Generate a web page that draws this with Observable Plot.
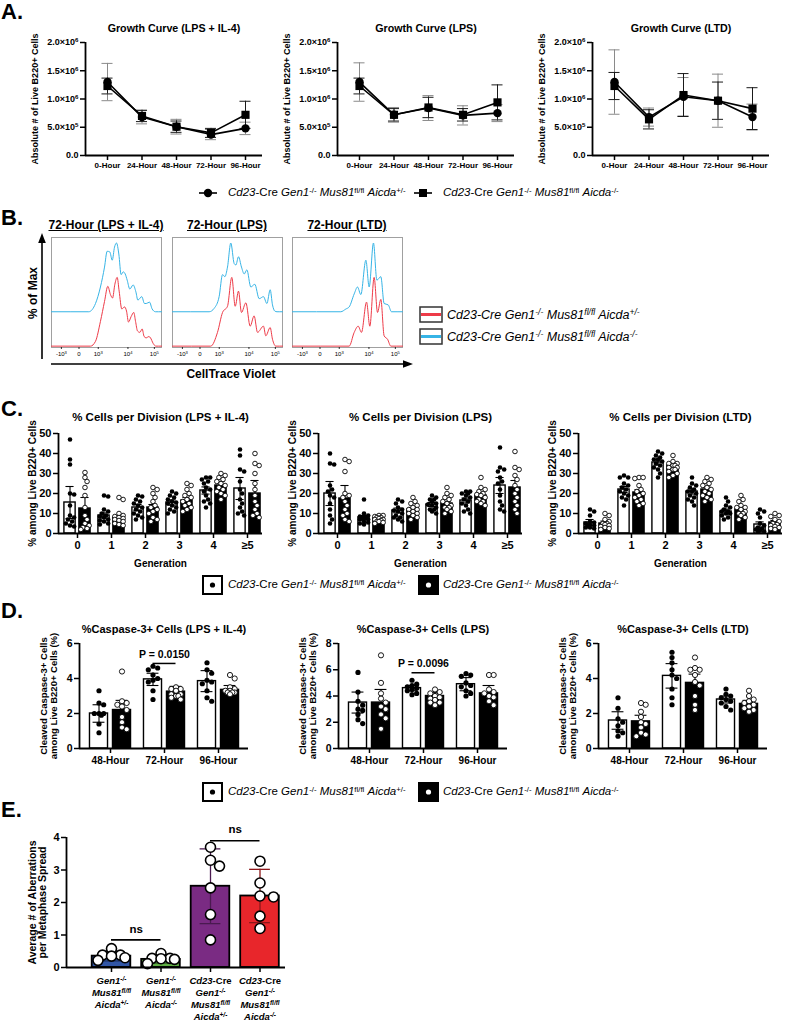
<!DOCTYPE html>
<html>
<head>
<meta charset="utf-8">
<script src="https://cdn.jsdelivr.net/npm/d3@7"></script>
<script src="https://cdn.jsdelivr.net/npm/@observablehq/plot@0.6"></script>
<style>
  html,body{margin:0;padding:0;background:#fff;}
  #root{position:relative;width:785px;height:1022px;overflow:hidden;background:#fff;font-family:"Liberation Sans",Arial,Helvetica,sans-serif;color:#000;}
  .t{position:absolute;white-space:nowrap;line-height:1;}
  .t sup{font-size:68%;line-height:0;vertical-align:0.45em;}
</style>
</head>
<body>
<div id="root"></div>
<script>
// ================= DATA =================
// ---- Panel A: growth curves (values ×10^6 cells) ----
const hours = ["0-Hour", "24-Hour", "48-Hour", "72-Hour", "96-Hour"];
const growthTitles = ["Growth Curve (LPS + IL-4)", "Growth Curve (LPS)", "Growth Curve (LTD)"];
const growthYTicks = [0, 500000, 1000000, 1500000, 2000000];
const growthYTickLabels = ["0.0", "5.0×10^5^", "1.0×10^6^", "1.5×10^6^", "2.0×10^6^"];
const growthHetMean = [[1.30, 0.68, 0.51, 0.37, 0.48], [1.30, 0.72, 0.84, 0.71, 0.75], [1.30, 0.68, 1.04, 0.97, 0.68]];
const growthHetErr  = [[0.33, 0.12, 0.13, 0.09, 0.11], [0.34, 0.13, 0.22, 0.17, 0.15], [0.57, 0.16, 0.34, 0.47, 0.23]];
const growthKoMean  = [[1.23, 0.70, 0.51, 0.40, 0.72], [1.23, 0.72, 0.85, 0.72, 0.94], [1.23, 0.64, 1.07, 0.97, 0.83]];
const growthKoErr   = [[0.14, 0.10, 0.10, 0.08, 0.24], [0.14, 0.11, 0.18, 0.11, 0.31], [0.24, 0.17, 0.38, 0.33, 0.37]];

// ---- Panel B: CellTrace Violet histograms (x: channel position 0-100, y: % of max) ----
const histTitles = ["72-Hour (LPS + IL-4)", "72-Hour (LPS)", "72-Hour (LTD)"];
const histTicks = [9, 25, 42.5, 69.5, 93.5];
const histTickLabels = ["-10^3^", "0", "10^3^", "10^4^", "10^5^"];
const histRed = [
  [[0,0],[35.5,0],[40,7],[44.5,36],[48.2,65],[51.2,87],[53.6,75],[55.5,70],[57.6,90],[59.7,100],[61.5,80],[63.9,54],[66.4,57],[68.2,51],[70,35],[72.4,43],[74.8,49],[76.4,36],[78.2,22],[80.3,20],[82.4,25],[84.2,14],[86.1,12],[88.5,14],[90,12],[92.4,4],[94.8,0],[100,0]],
  [[0,0],[34.8,0],[40.9,20],[45.5,49],[50,58],[53.9,100],[57,58],[60,80],[62.7,49],[66.7,63],[70.6,29],[74.2,44],[77.3,20],[82.7,29],[84.8,15],[88.8,27],[90.9,10],[93.9,0],[100,0]],
  [[0,0],[51.5,0],[56.1,20],[59.7,29],[62.7,20],[67.3,64],[70.3,29],[74.2,100],[77.3,49],[80.3,68],[83.3,15],[86.4,10],[89.4,0],[100,0]]
];
const histBlue = [
  [[0,0],[33.9,0],[40,12],[44.5,36],[48.2,65],[50.6,88],[53,87],[55.2,75],[57.3,94],[59.1,100],[61.2,84],[63.3,54],[65.2,58],[67,55],[68.8,46],[71.2,33],[74.2,39],[76.7,29],[78.5,17],[82.1,22],[84.5,12],[86.1,12],[89.1,14],[91.5,4],[94.5,0],[100,0]],
  [[0,0],[33.3,0],[37.9,5],[42.4,22],[45.5,54],[47.6,51],[50,65],[53,100],[56.1,70],[57.6,68],[60,80],[62.7,65],[65.2,55],[67.6,61],[71.2,36],[74.8,40],[78.8,19],[82.7,22],[85.8,12],[88.8,32],[90.9,10],[93,1],[95,0],[100,0]],
  [[0,0],[43.9,0],[48.5,4],[51.5,7],[56.1,26],[59.1,36],[62.1,25],[66.7,75],[69.7,36],[73.6,100],[76.7,46],[80.3,51],[83.3,12],[87,10],[90,0],[100,0]]
];

// ---- Panel C: % cells per division ----
const generations = ["0", "1", "2", "3", "4", "≥5"];
const divTitles = ["% Cells per Division (LPS + IL-4)", "% Cells per Division (LPS)", "% Cells per Division (LTD)"];
const divYTicks = [0, 10, 20, 30, 40, 50];
const divHetMean = [[15.5, 9, 13, 15.5, 21.5, 22.5], [20, 8, 11.5, 14.5, 16.5, 24], [5.5, 22, 35.5, 21, 11, 4.5]];
const divHetErr  = [[8, 1.3, 1.5, 1.3, 1.8, 5.5], [6, 1, 1.2, 1, 1.2, 4], [1.5, 1.5, 1.3, 1.3, 1.2, 1.3]];
const divKoMean  = [[12.5, 8, 13, 16.5, 24, 20], [17.5, 7.5, 12, 15, 19, 23], [5, 20.5, 34, 22, 12, 5.5]];
const divKoErr   = [[5.5, 1, 1.5, 1.5, 2, 6.5], [6.5, 0.5, 1, 1, 1.2, 3.5], [1.2, 1.4, 1, 1.2, 1.1, 1]];
const divHetDots = [
  [[47,37,34.5,20,19.5,14,9,8,7,6,5,4,3.5],[19,18.5,12,11,10,9,8.5,8,7,6.5,6,5,4.5],[19,18.5,17,16,15,14,13,12,11,10,9,8,7],[21,20,19,18,17,16,15.5,15,14,13,12,11,10],[28,28,27,26,25,23,22,21,19,17,16,15,13],[42,39,32,31,26,22,20,17,15,13,11,10,9]],
  [[40,35,34.5,24,22,21,19,18,15,12,9,7,5],[17,10,9,8.5,8,8,7.5,7,7,6,5.5,5,4.5],[17,16,15,13,12,11.5,11,10,9,8,8,7,6],[19,18,17,17,16,15,14.5,14,13,12,12,11,10],[21,21,20,20,19,18,17,16,15,14,12,11,10],[43,33,32,31,28,26,25,22,19,16,14,12,11]],
  [[12,11,9,6,5.5,5,4.5,4,4,3,3,2.5],[29,28,28,25,24,23,22,21,20,19,18,17,14],[41,40,39,38,37,37,36,35,34,33,32,30,28],[28,25,24,23,22,21,21,20,19,18,17,16,14],[18,16,14,13,12,11,11,10,10,9,8,7],[12,11,10,8,5,4,3,2.5,2,1.5,1,1]]
];
const divKoDots = [
  [[30.5,28,26,23,19,13,9,7,5,4,3,2.5,2],[18,17,10,9,8.5,8,7.5,7,6.5,6,5,4.5,4],[23,22,20,18,16,14,13,12,11,10,8,7,6],[25,24,22,20,19,18,17,16,15,14,13,12,11],[30,29,28,27,26,25,24,23,22,21,20,19,17],[40,35,34,30,25,22,19,16,14,12,10,9,8]],
  [[37,36,31,20,19,18,16,14,12,10,9,7,6],[9,9,8.5,8,8,7.5,7,7,6.5,6,6,5.5,5],[18,16,15,14,13,12,12,11,10,10,9,8,7],[23,20,19,18,17,16,15,14,13,13,12,11,10],[28,23,22,21,20,19.5,19,18,17,16,16,15,14],[41,33,32,29,27,24,22,20,18,16,14,12,10]],
  [[10,9,7,6,5,5,4.5,4,3.5,3,2.5,2],[28,28,27.5,24,22,21,20,19,18,17,16,15,14],[39,36,35,35,34,34,33,33,32,32,31,30,29,28],[28,27,26,25,24,23,22,21,20,19,18,17,16],[19,17,16,14,13,13,12,11,10,10,9,8,7],[10,9,8.5,7,6,5,4.5,4,3.5,3,2.5,2]]
];

// ---- Panel D: cleaved caspase-3 ----
const caspCats = ["48-Hour", "72-Hour", "96-Hour"];
const caspTitles = ["%Caspase-3+ Cells (LPS + IL-4)", "%Caspase-3+ Cells (LPS)", "%Caspase-3+ Cells (LTD)"];
const caspYMax = [6, 8, 6];
const caspYTicks = [[0, 2, 4, 6], [0, 2, 4, 6, 8], [0, 2, 4, 6]];
const caspHetMean = [[2.0, 3.95, 3.85], [3.5, 4.6, 4.9], [1.6, 4.15, 2.8]];
const caspHetErr  = [[0.5, 0.35, 0.6], [0.8, 0.2, 0.5], [0.5, 0.7, 0.2]];
const caspKoMean  = [[2.2, 3.25, 3.35], [3.5, 4.0, 4.2], [1.55, 3.75, 2.55]];
const caspKoErr   = [[0.55, 0.3, 0.25], [1.0, 0.25, 0.6], [0.35, 0.5, 0.2]];
const caspHetDots = [
  [[3.3,2.6,2.5,2.0,2.0,2.0,1.9,1.4,0.9],[4.7,4.6,4.5,4.2,4.0,3.9,3.8,3.3,2.8],[4.9,4.5,4.3,3.9,3.8,3.7,3.3,2.9,2.7]],
  [[5.8,4.3,3.6,3.3,3.0,2.9,2.6,2.2,1.9],[5.2,4.9,4.8,4.7,4.6,4.5,4.4,4.2,4.1],[5.7,5.6,5.5,5.0,4.8,4.7,4.4,4.2,4.0]],
  [[2.9,2.3,1.7,1.5,1.3,1.0,0.9,0.7],[5.5,5.2,4.9,4.5,4.2,4.0,3.4,2.9,2.5],[3.4,3.1,3.0,2.9,2.8,2.7,2.6,2.4,2.2]]
];
const caspKoDots = [
  [[4.4,2.7,2.6,2.5,2.4,2.2,1.8,1.5,1.2,1.1],[3.5,3.4,3.4,3.3,3.1,3.1,3.0,3.0,2.9,2.8],[4.2,4.0,3.5,3.4,3.3,3.3,3.2,3.2,3.2,3.1]],
  [[7.1,5.0,4.2,3.8,3.5,3.2,3.0,2.6,2.3,1.5],[4.5,4.3,4.2,4.0,3.9,3.8,3.7,3.5,3.5,3.3],[5.6,5.6,4.5,4.3,4.2,4.0,3.9,3.6,3.3]],
  [[2.6,2.5,2.1,1.8,1.5,1.4,1.2,0.9,0.8,0.7],[5.2,4.6,4.5,4.5,4.2,3.8,3.6,3.0,2.5,2.2],[3.3,3.0,2.8,2.7,2.6,2.5,2.4,2.3,2.2,2.1]]
];
const caspSig = [[{cat: 1, y: 4.86, label: "P = 0.0150"}], [{cat: 1, y: 5.77, label: "P = 0.0096"}], []];

// ---- Panel E: aberrations per metaphase spread ----
const aberrGroups = [
  "*Gen1^-/-^*\n*Mus81^fl/fl^*\n*Aicda^+/-^*",
  "*Gen1^-/-^*\n*Mus81^fl/fl^*\n*Aicda^-/-^*",
  "*Cd23*-Cre\n*Gen1^-/-^*\n*Mus81^fl/fl^*\n*Aicda^+/-^*",
  "*Cd23*-Cre\n*Gen1^-/-^*\n*Mus81^fl/fl^*\n*Aicda^-/-^*"
];
const aberrYTicks = [0, 1, 2, 3, 4];
const aberrMean = [0.35, 0.25, 2.5, 2.2];
const aberrSD = [0.15, 0.12, 1.15, 0.82];
const aberrDots = [[0.58, 0.38, 0.38, 0.35, 0.30, 0.22], [0.43, 0.28, 0.28, 0.27, 0.25, 0.12], [3.7, 3.3, 3.12, 2.45, 1.63, 0.85], [3.27, 2.6, 2.2, 2.17, 1.58, 1.2]];
const aberrSig = [{a: 0, b: 1, y: 0.85, label: "ns"}, {a: 2, b: 3, y: 3.9, label: "ns"}];

// Genotype legend labels
const genoHet = '<i>Cd23</i>-Cre <i>Gen1</i><sup>-/-</sup> <i>Mus81</i><sup>fl/fl</sup> <i>Aicda</i><sup>+/-</sup>';
const genoKo  = '<i>Cd23</i>-Cre <i>Gen1</i><sup>-/-</sup> <i>Mus81</i><sup>fl/fl</sup> <i>Aicda</i><sup>-/-</sup>';
const genoHetIt = '<i>Cd23-Cre Gen1<sup>-/-</sup> Mus81<sup>fl/fl</sup> Aicda<sup>+/-</sup></i>';
const genoKoIt  = '<i>Cd23-Cre Gen1<sup>-/-</sup> Mus81<sup>fl/fl</sup> Aicda<sup>-/-</sup></i>';

// ================= RENDERING =================
const root = document.getElementById("root");
const FONT = '"Liberation Sans", Arial, Helvetica, sans-serif';
const NS = "http://www.w3.org/2000/svg";
const RED = "#ee3b48", BLUE = "#36b4e6";
const aberrFill = ["#3156a6", "#5fae44", "#7a2b83", "#e8262b"];

function plotStyle() {
  return {fontFamily: FONT, fontWeight: "bold", background: "transparent", color: "#000", overflow: "visible"};
}
function place(svg, left, top) {
  svg.style.position = "absolute";
  svg.style.left = left + "px";
  svg.style.top = top + "px";
  svg.style.maxWidth = "none";
  root.appendChild(svg);
}
function swarm(vals, pxPerY, r, maxOff) {
  const order = vals.map((_, i) => i).sort((a, b) => vals[b] - vals[a]);
  const placed = [], out = new Array(vals.length).fill(0);
  const cands = [0];
  for (let k = 1; k * r * 0.9 <= maxOff + 1e-9; k++) cands.push(k * r * 0.9, -k * r * 0.9);
  const minD = 2 * r * 0.92;
  for (const i of order) {
    const y = vals[i] * pxPerY;
    let best = 0, bestScore = -Infinity;
    for (const c of cands) {
      let md = Infinity;
      for (const p of placed) md = Math.min(md, Math.hypot(p.x - c, p.y - y));
      if (md >= minD) { best = c; break; }
      if (md > bestScore) { bestScore = md; best = c; }
    }
    placed.push({x: best, y});
    out[i] = best;
  }
  return out;
}

// ---------- Panel A ----------
const growthLeft = [85, 337, 592];
function growthChart(k) {
  const fw = 177, fh = 113, ml = 85, mr = 8, mt = 30, mb = 22, x0 = 22, step = 34.5, cap = 0.16;
  const xd = [-x0 / step, (fw - x0) / step];
  const rows = (M, E) => M[k].map((m, i) => ({i, v: m * 1e6, lo: (m - E[k][i]) * 1e6, hi: (m + E[k][i]) * 1e6}));
  const het = rows(growthHetMean, growthHetErr), ko = rows(growthKoMean, growthKoErr);
  const err = (d, color) => [
    Plot.ruleX(d, {x: "i", y1: "lo", y2: "hi", stroke: color, strokeWidth: 1}),
    Plot.ruleY(d, {y: "hi", x1: r => r.i - cap, x2: r => r.i + cap, stroke: color, strokeWidth: 1}),
    Plot.ruleY(d, {y: "lo", x1: r => r.i - cap, x2: r => r.i + cap, stroke: color, strokeWidth: 1})
  ];
  const svg = Plot.plot({
    width: ml + fw + mr, height: mt + fh + mb,
    marginLeft: ml, marginRight: mr, marginTop: mt, marginBottom: mb,
    style: plotStyle(),
    x: {domain: xd}, y: {domain: [0, 2e6]},
    marks: [
      Plot.axisY({ticks: growthYTicks, tickFormat: d => growthYTickLabels[growthYTicks.indexOf(d)], tickSize: 5, tickPadding: 2, strokeWidth: 1.5, fontSize: 9, label: null}),
      Plot.axisY({ticks: [], label: "Absolute # of Live B220+ Cells", labelAnchor: "center", labelArrow: "none", labelOffset: 54, fontSize: 9}),
      Plot.axisX({ticks: hours.map((_, i) => i), tickFormat: i => hours[i], tickSize: 5, tickPadding: 2, strokeWidth: 1.5, fontSize: 8, label: null}),
      Plot.ruleX([xd[0]], {strokeWidth: 1.8}),
      Plot.ruleY([0], {strokeWidth: 1.8}),
      ...err(het, "#8a8a8a"),
      ...err(ko, "#1a1a1a"),
      Plot.line(het, {x: "i", y: "v", strokeWidth: 1.6}),
      Plot.line(ko, {x: "i", y: "v", strokeWidth: 1.6}),
      Plot.dot(het, {x: "i", y: "v", r: 4.2, fill: "black"}),
      Plot.dot(ko, {x: "i", y: "v", r: 4.6, symbol: "square", fill: "black"}),
      Plot.text([growthTitles[k]], {text: d => d, frameAnchor: "top", dy: -18, fontSize: 10.7})
    ]
  });
  place(svg, growthLeft[k] - ml, 42 - mt);
}
[0, 1, 2].forEach(growthChart);

// ---------- Panel B ----------
const histLeft = [51, 172, 292];
const blueOffset = 50;
function histChart(k) {
  const fw = 110, fh = 110, ml = 8, mr = 8, mt = 2, mb = 14;
  const svg = Plot.plot({
    width: ml + fw + mr, height: mt + fh + mb,
    marginLeft: ml, marginRight: mr, marginTop: mt, marginBottom: mb,
    style: plotStyle(),
    x: {domain: [0, 100]}, y: {domain: [-2, 158]},
    marks: [
      Plot.frame({stroke: "#a0a0a0", strokeWidth: 1}),
      Plot.axisX({ticks: histTicks, tickFormat: d => histTickLabels[histTicks.indexOf(d)], tickSize: 2, tickPadding: 2, fontSize: 6, fontWeight: "normal", label: null, strokeWidth: 0.8}),
      Plot.axisY({ticks: [], label: null}),
      Plot.line(histRed[k], {x: d => d[0], y: d => d[1], curve: "monotone-x", stroke: RED, strokeWidth: 1}),
      Plot.line(histBlue[k], {x: d => d[0], y: d => d[1] + blueOffset, curve: "monotone-x", stroke: BLUE, strokeWidth: 1})
    ]
  });
  place(svg, histLeft[k] - ml, 237 - mt);
}
[0, 1, 2].forEach(histChart);

// ---------- Grouped bar charts (Panels C and D) ----------
function groupedBars(o) {
  const xd = [-o.x0 / o.step, (o.fw - o.x0) / o.step];
  const pxY = o.fh / o.yMax;
  const hetBars = [], koBars = [], errs = [], hetPts = [], koPts = [];
  o.cats.forEach((_, i) => {
    const groups = [
      {M: o.hetMean, E: o.hetErr, D: o.hetDots, side: -1, bars: hetBars, pts: hetPts},
      {M: o.koMean, E: o.koErr, D: o.koDots, side: 1, bars: koBars, pts: koPts}
    ];
    for (const g of groups) {
      const cx = i + g.side * o.offset;
      const m = g.M[i], e = g.E[i];
      g.bars.push({x1: cx - o.half, x2: cx + o.half, v: m});
      errs.push({x: cx, lo: Math.max(0, m - e), hi: m + e});
      const offs = swarm(g.D[i], pxY, o.r, o.maxOff);
      g.D[i].forEach((v, j) => g.pts.push({x: cx + offs[j] / o.step, v}));
    }
  });
  const sig = o.sig || [];
  const marks = [
    Plot.axisY({ticks: o.yTicks, tickFormat: d => String(d), tickSize: 5, tickPadding: 2, strokeWidth: 1.5, fontSize: o.tickFont, label: null}),
    Plot.axisY({ticks: [], label: o.yLabel, labelAnchor: "center", labelArrow: "none", labelOffset: o.yLabelOffset, fontSize: o.labelFont, lineHeight: 1.1}),
    Plot.axisX({ticks: o.cats.map((_, i) => i), tickFormat: i => o.cats[i], tickSize: 5, tickPadding: 3, strokeWidth: 1.5, fontSize: o.catFont, label: null}),
    o.xLabel ? Plot.axisX({ticks: [], label: o.xLabel, labelAnchor: "center", labelArrow: "none", labelOffset: o.xLabelOffset, fontSize: o.labelFont}) : null,
    Plot.rect(hetBars, {x1: "x1", x2: "x2", y1: () => 0, y2: "v", fill: "white", stroke: "black", strokeWidth: 1.4}),
    Plot.rect(koBars, {x1: "x1", x2: "x2", y1: () => 0, y2: "v", fill: "black", stroke: "black", strokeWidth: 1.4}),
    Plot.ruleX(errs, {x: "x", y1: "lo", y2: "hi", strokeWidth: 1.1}),
    Plot.ruleY(errs, {y: "hi", x1: d => d.x - o.cap, x2: d => d.x + o.cap, strokeWidth: 1.1}),
    Plot.ruleY(errs, {y: "lo", x1: d => d.x - o.cap, x2: d => d.x + o.cap, strokeWidth: 1.1}),
    Plot.dot(hetPts, {x: "x", y: "v", r: o.r, fill: "black"}),
    Plot.dot(koPts, {x: "x", y: "v", r: o.r, fill: "white", stroke: "black", strokeWidth: 0.9}),
    Plot.ruleX([xd[0]], {strokeWidth: 1.8}),
    Plot.ruleY([0], {strokeWidth: 1.8}),
    Plot.ruleY(sig, {y: "y", x1: d => d.cat - o.offset, x2: d => d.cat + o.offset, strokeWidth: 1.5}),
    Plot.text(sig, {x: "cat", y: "y", text: "label", dy: -9, fontSize: 10.5}),
    Plot.text([o.title], {text: d => d, frameAnchor: "top", dy: o.titleDy, fontSize: o.titleFont})
  ].filter(Boolean);
  const svg = Plot.plot({
    width: o.ml + o.fw + o.mr, height: o.mt + o.fh + o.mb,
    marginLeft: o.ml, marginRight: o.mr, marginTop: o.mt, marginBottom: o.mb,
    style: plotStyle(),
    x: {domain: xd}, y: {domain: [0, o.yMax]},
    marks
  });
  place(svg, o.left - o.ml, o.top - o.mt);
}

// Panel C
const divLeft = [58, 318, 578];
[0, 1, 2].forEach(k => groupedBars({
  left: divLeft[k], top: 433, fw: 204, fh: 100, ml: 58, mr: 3, mt: 30, mb: 40,
  x0: 19, step: 34, offset: 0.22, half: 0.165, cap: 0.12, r: 2.3, maxOff: 5.5,
  yMax: 50, yTicks: divYTicks, cats: generations,
  hetMean: divHetMean[k], hetErr: divHetErr[k], koMean: divKoMean[k], koErr: divKoErr[k],
  hetDots: divHetDots[k], koDots: divKoDots[k],
  title: divTitles[k], titleDy: -21, titleFont: 11.5,
  yLabel: "% among Live B220+ Cells", yLabelOffset: 30, xLabel: "Generation", xLabelOffset: 33,
  tickFont: 11, catFont: 11, labelFont: 10
}));

// Panel D
const caspLeft = [79, 338, 598];
[0, 1, 2].forEach(k => groupedBars({
  left: caspLeft[k], top: 643, fw: 169, fh: 105, ml: 79, mr: 6, mt: 28, mb: 22,
  x0: 31, step: 54, offset: 0.213, half: 0.167, cap: 0.11, r: 2.6, maxOff: 7,
  yMax: caspYMax[k], yTicks: caspYTicks[k], cats: caspCats,
  hetMean: caspHetMean[k], hetErr: caspHetErr[k], koMean: caspKoMean[k], koErr: caspKoErr[k],
  hetDots: caspHetDots[k], koDots: caspKoDots[k], sig: caspSig[k],
  title: caspTitles[k], titleDy: -18, titleFont: 11,
  yLabel: "Cleaved Caspase-3+ Cells\namong Live B220+ Cells (%)", yLabelOffset: 39,
  tickFont: 10.5, catFont: 10, labelFont: 9.5
}));

// ---------- Panel E ----------
(function aberrChart() {
  const fw = 219, fh = 130, ml = 66, mr = 10, mt = 22, mb = 56, x0 = 45, step = 49.5, half = 0.39, cap = 0.21, r = 5;
  const xd = [-x0 / step, (fw - x0) / step];
  const pxY = fh / 4;
  const rows = aberrMean.map((m, i) => ({i, v: m, lo: m - aberrSD[i], hi: m + aberrSD[i],
    fill: aberrFill[i], dark: d3.color(aberrFill[i]).darker(1.4).formatHex()}));
  const pts = [];
  aberrDots.forEach((vals, i) => {
    const offs = swarm(vals, pxY, r, 14);
    vals.forEach((v, j) => pts.push({x: i + offs[j] / step, v}));
  });
  const svg = Plot.plot({
    width: ml + fw + mr, height: mt + fh + mb,
    marginLeft: ml, marginRight: mr, marginTop: mt, marginBottom: mb,
    style: plotStyle(),
    x: {domain: xd}, y: {domain: [0, 4]}, color: {type: "identity"},
    marks: [
      Plot.axisY({ticks: aberrYTicks, tickFormat: d => String(d), tickSize: 5, tickPadding: 2, strokeWidth: 1.5, fontSize: 11, label: null}),
      Plot.axisY({ticks: [], label: "Average # of Aberrations\nper Metaphase Spread", labelAnchor: "center", labelArrow: "none", labelOffset: 38, fontSize: 10.5, lineHeight: 1.3}),
      Plot.axisX({ticks: aberrGroups.map((_, i) => i), tickFormat: i => aberrGroups[i], tickSize: 5, tickPadding: 3, strokeWidth: 1.5, fontSize: 9.5, lineHeight: 1.25, label: null}),
      Plot.rect(rows, {x1: d => d.i - half, x2: d => d.i + half, y1: () => 0, y2: "v", fill: "fill", stroke: "black", strokeWidth: 1.8}),
      Plot.ruleX(rows, {x: "i", y1: "lo", y2: "hi", stroke: "dark", strokeWidth: 1.3}),
      Plot.ruleY(rows, {y: "hi", x1: d => d.i - cap, x2: d => d.i + cap, stroke: "dark", strokeWidth: 1.3}),
      Plot.ruleY(rows, {y: "lo", x1: d => d.i - cap, x2: d => d.i + cap, stroke: "dark", strokeWidth: 1.3}),
      Plot.dot(pts, {x: "x", y: "v", r, fill: "white", stroke: "black", strokeWidth: 1.6}),
      Plot.ruleX([xd[0]], {strokeWidth: 1.8}),
      Plot.ruleY([0], {strokeWidth: 1.8}),
      Plot.ruleY(aberrSig, {y: "y", x1: "a", x2: "b", strokeWidth: 1.6}),
      Plot.text(aberrSig, {x: d => (d.a + d.b) / 2, y: "y", text: "label", dy: -11, fontSize: 11.5})
    ]
  });
  place(svg, 66 - ml, 837 - mt);
})();

// ---------- rich text (italic / superscript) inside the SVG texts ----------
function richify() {
  root.querySelectorAll("svg text, svg tspan").forEach(el => {
    if (el.children.length) return;
    const s = el.textContent;
    if (!/[*^]/.test(s)) return;
    el.textContent = "";
    let it = false, sup = false, buf = "";
    const flush = () => {
      if (!buf) return;
      const t = document.createElementNS(NS, "tspan");
      if (it) t.setAttribute("font-style", "italic");
      if (sup) { t.setAttribute("font-size", "68%"); t.setAttribute("baseline-shift", "super"); }
      t.textContent = buf;
      el.appendChild(t);
      buf = "";
    };
    for (const ch of s) {
      if (ch === "*") { flush(); it = !it; }
      else if (ch === "^") { flush(); sup = !sup; }
      else buf += ch;
    }
    flush();
  });
}
richify();

// ---------- HTML text, legends, decorations ----------
function txt(html, x, y, {anchor = "start", size = 12, weight = "normal", rotate = false, extra = ""} = {}) {
  const d = document.createElement("div");
  d.className = "t";
  d.innerHTML = html;
  const tx = anchor === "middle" ? "-50%" : anchor === "end" ? "-100%" : "0";
  d.style.left = x + "px";
  d.style.top = y + "px";
  d.style.fontSize = size + "px";
  d.style.fontWeight = weight;
  d.style.transform = `translate(${tx},-50%)` + (rotate ? " rotate(-90deg)" : "");
  if (extra) d.style.cssText += extra;
  root.appendChild(d);
  return d;
}
function el(tag, attrs, parent) {
  const e = document.createElementNS(NS, tag);
  for (const k in attrs) e.setAttribute(k, attrs[k]);
  parent.appendChild(e);
  return e;
}

// panel letters
[["A.", 12], ["B.", 218], ["C.", 409], ["D.", 611], ["E.", 810]].forEach(([l, y]) => txt(l, 1, y, {size: 22, weight: "bold"}));

// legend A
txt(genoHet, 228, 193, {size: 11.5});
txt(genoKo, 443, 193, {size: 11.5});
// panel B titles and labels
histTitles.forEach((t, k) => txt(t, histLeft[k] + 55, 225, {anchor: "middle", size: 12, weight: "bold", extra: "text-decoration:underline;"}));
txt("% of Max", 33, 293, {anchor: "middle", size: 12, weight: "bold", rotate: true});
txt("CellTrace Violet", 231, 374, {anchor: "middle", size: 12, weight: "bold"});
txt(genoHetIt, 447, 315, {size: 12.5});
txt(genoKoIt, 447, 337, {size: 12.5});
// legends C and D
txt(genoHet, 228, 585, {size: 11.5});
txt(genoKo, 443, 585, {size: 11.5});
txt(genoHet, 228, 792, {size: 11.5});
txt(genoKo, 443, 792, {size: 11.5});

const ov = el("svg", {width: 785, height: 1022, style: "position:absolute;left:0;top:0;pointer-events:none;overflow:visible"}, root);
// legend A symbols
el("line", {x1: 199, x2: 217, y1: 193, y2: 193, stroke: "black", "stroke-width": 1.6}, ov);
el("circle", {cx: 208, cy: 193, r: 4.2, fill: "black"}, ov);
el("line", {x1: 414, x2: 432, y1: 193, y2: 193, stroke: "black", "stroke-width": 1.6}, ov);
el("rect", {x: 419, y: 189, width: 8, height: 8, fill: "black"}, ov);
// B arrows
el("line", {x1: 42, x2: 42, y1: 359, y2: 241, stroke: "black", "stroke-width": 1.6}, ov);
el("polygon", {points: "42,233 38.2,243 45.8,243", fill: "black"}, ov);
el("line", {x1: 51, x2: 404, y1: 364, y2: 364, stroke: "black", "stroke-width": 1.6}, ov);
el("polygon", {points: "413,364 403,360.2 403,367.8", fill: "black"}, ov);
// B legend boxes
[[307, RED], [329, BLUE]].forEach(([y, c]) => {
  el("rect", {x: 420, y, width: 22, height: 15, fill: "white", stroke: "#333", "stroke-width": 1.5}, ov);
  el("line", {x1: 421, x2: 441, y1: y + 7.5, y2: y + 7.5, stroke: c, "stroke-width": 3}, ov);
});
// C and D legend boxes
[576, 783].forEach(y => {
  el("rect", {x: 203, y, width: 19, height: 18, fill: "white", stroke: "black", "stroke-width": 2}, ov);
  el("circle", {cx: 212.5, cy: y + 9, r: 2.6, fill: "black"}, ov);
  el("rect", {x: 419, y, width: 19, height: 18, fill: "black", stroke: "black", "stroke-width": 2}, ov);
  el("circle", {cx: 428.5, cy: y + 9, r: 2.6, fill: "white"}, ov);
});
</script>
</body>
</html>
